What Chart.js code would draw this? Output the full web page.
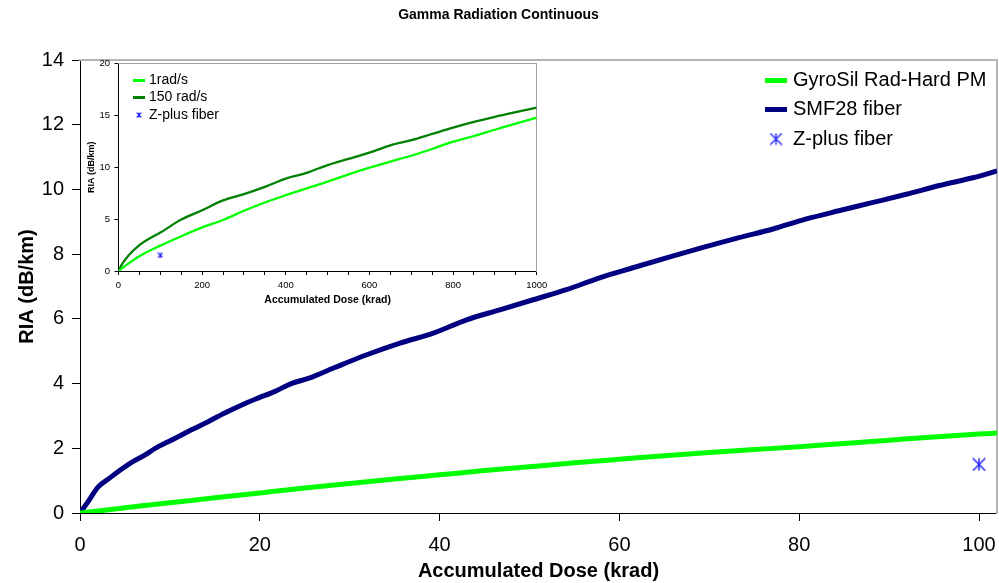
<!DOCTYPE html>
<html><head><meta charset="utf-8">
<script src="https://cdn.jsdelivr.net/npm/chart.js@4.4.1/dist/chart.umd.min.js"></script>
<style>
html,body{margin:0;padding:0;background:#fff;}
#wrap{position:relative;width:999px;height:583px;overflow:hidden;}
#main{position:absolute;left:0;top:0;}
#inset{position:absolute;left:80px;top:55px;}
</style></head><body>
<div id="wrap"><canvas id="main" width="999" height="583"></canvas><canvas id="inset" width="470" height="252"></canvas></div>
<script>
// ---------- text ----------
const chartTitle = 'Gamma Radiation Continuous';
const xAxisTitle = 'Accumulated Dose (krad)';
const yAxisTitle = 'RIA (dB/km)';
const mainSeriesNames = ['GyroSil Rad-Hard PM', 'SMF28 fiber', 'Z-plus fiber'];
const insetSeriesNames = ['1rad/s', '150 rad/s', 'Z-plus fiber'];

// ---------- main chart data (dose krad, RIA dB/km) ----------
const gyroDose = [0, 5, 10, 15, 20, 25, 30, 35, 40, 45, 50, 55, 60, 65, 70, 75, 80, 85, 90, 95, 100, 102];
const gyroRIA  = [0, 0.16, 0.32, 0.47, 0.62, 0.77, 0.91, 1.05, 1.18, 1.31, 1.43, 1.55, 1.66, 1.77, 1.87, 1.96, 2.05, 2.15, 2.25, 2.35, 2.44, 2.47];
const smfDose = [0, 0.9, 2.0, 3.2, 4.3, 5.7, 6.9, 8.7, 10.6, 12.4, 14.3, 16.1, 18.0, 19.8, 21.7, 23.5, 25.4, 28.2, 31.9, 35.6, 39.3, 43.0, 46.7, 50.4, 54.1, 57.8, 61.5, 65.9, 69.6, 73.3, 77.0, 80.7, 84.4, 88.1, 91.9, 95.6, 99.3, 102];
const smfRIA  = [0, 0.35, 0.8, 1.06, 1.29, 1.56, 1.74, 2.05, 2.31, 2.57, 2.83, 3.09, 3.34, 3.55, 3.76, 4.0, 4.16, 4.48, 4.89, 5.25, 5.56, 5.97, 6.28, 6.59, 6.90, 7.27, 7.58, 7.94, 8.23, 8.51, 8.77, 9.08, 9.34, 9.59, 9.85, 10.12, 10.36, 10.57];
const zplusDose = [100];
const zplusRIA  = [1.5];
const mainXRange = [0, 102];
const mainYRange = [0, 14];
const mainXStep = 20;
const mainYStep = 2;

// ---------- inset chart data ----------
const slowDose = [0, 20, 50, 100, 150, 200, 250, 300, 350, 400, 450, 500, 550, 600, 650, 700, 750, 800, 850, 900, 950, 1000];
const slowRIA  = [0, 0.62, 1.43, 2.44, 3.35, 4.2, 4.91, 5.8, 6.6, 7.3, 7.96, 8.6, 9.3, 9.95, 10.53, 11.1, 11.75, 12.45, 13.0, 13.6, 14.2, 14.77];
const fastDose = [0, 10, 25, 50, 75, 100, 150, 200, 250, 300, 350, 400, 450, 500, 550, 600, 650, 700, 750, 800, 850, 900, 950, 1000];
const fastRIA  = [0, 0.75, 1.55, 2.5, 3.15, 3.7, 4.95, 5.85, 6.8, 7.4, 8.1, 8.9, 9.45, 10.2, 10.8, 11.4, 12.1, 12.6, 13.2, 13.8, 14.35, 14.85, 15.3, 15.73];
const insetZDose = [100];
const insetZRIA  = [1.5];
const insetXRange = [0, 1000];
const insetYRange = [0, 20];
const insetXStep = 50;
const insetXLabelEvery = 200;
const insetYStep = 5;

// ---------- helpers ----------
const FONT = "'Liberation Sans', Arial, Helvetica, sans-serif";
const pts = (xs, ys) => xs.map((x, i) => ({x: x, y: ys[i]}));

function starImg(size, color, lw) {
  const c = document.createElement('canvas');
  c.width = size; c.height = size;
  const g = c.getContext('2d');
  g.strokeStyle = color; g.lineWidth = lw;
  const e = lw / 2, s = size - lw / 2, m = size / 2;
  g.beginPath();
  g.moveTo(m, e); g.lineTo(m, s);
  g.moveTo(e, e); g.lineTo(s, s);
  g.moveTo(s, e); g.lineTo(e, s);
  g.stroke();
  return c;
}
function lineImg(w, h, color) {
  const c = document.createElement('canvas');
  c.width = w; c.height = h;
  const g = c.getContext('2d');
  g.fillStyle = color; g.fillRect(0, 0, w, h);
  return c;
}

const placeLegend = {
  id: 'placeLegend',
  afterLayout(chart, args, opts) {
    const l = chart.legend;
    if (!l || !opts || opts.x === undefined) return;
    l.left = opts.x; l.top = opts.y;
    l.right = opts.x + 400; l.bottom = opts.y + 200;
  }
};

function legendLabels(images) {
  return (chart) => chart.data.datasets.map((ds, i) => ({
    text: ds.label, pointStyle: images[i], fillStyle: ds.borderColor,
    strokeStyle: ds.borderColor, lineWidth: 0, hidden: false, datasetIndex: i, fontColor: '#000'
  }));
}

const GREEN = '#00ff00', NAVY = '#000080', BLUE = '#2a2aff', DKGREEN = '#008000';

// ---------- main chart ----------
const bigStar = starImg(14, BLUE, 1.5);
new Chart(document.getElementById('main'), {
  type: 'line',
  data: {
    datasets: [
      {label: mainSeriesNames[0], data: pts(gyroDose, gyroRIA), borderColor: GREEN, backgroundColor: GREEN,
       borderWidth: 5, pointRadius: 0, cubicInterpolationMode: 'monotone', borderJoinStyle: 'round', fill: false},
      {label: mainSeriesNames[1], data: pts(smfDose, smfRIA), borderColor: NAVY, backgroundColor: NAVY,
       borderWidth: 5, pointRadius: 0, cubicInterpolationMode: 'monotone', borderJoinStyle: 'round', fill: false},
      {label: mainSeriesNames[2], type: 'scatter', data: pts(zplusDose, zplusRIA), borderColor: BLUE, backgroundColor: BLUE,
       pointStyle: bigStar, pointRadius: 7, showLine: false}
    ]
  },
  options: {
    responsive: false, animation: false, devicePixelRatio: 1, events: [],
    layout: {autoPadding: false, padding: {left: 0, right: 2, top: 0, bottom: 0}},
    scales: {
      x: {
        type: 'linear', position: 'bottom', min: mainXRange[0], max: mainXRange[1],
        ticks: {stepSize: mainXStep, includeBounds: false, autoSkip: false, maxRotation: 0,
                font: {family: FONT, size: 20}, color: '#000', padding: 12},
        grid: {display: true, drawOnChartArea: false, drawTicks: true, tickLength: 8, color: '#000', lineWidth: 1},
        border: {display: true, color: '#000', width: 1},
        title: {display: true, text: xAxisTitle, color: '#000', font: {family: FONT, size: 20, weight: 'bold'}, padding: {top: 0, bottom: 0}},
        afterFit(s) { s.height = 70; s.paddingLeft = 0; s.paddingRight = 0; }
      },
      y: {
        type: 'linear', position: 'left', min: mainYRange[0], max: mainYRange[1],
        ticks: {stepSize: mainYStep, autoSkip: false, font: {family: FONT, size: 20}, color: '#000', padding: 8},
        grid: {display: true, drawOnChartArea: false, drawTicks: true, tickLength: 8, color: '#000', lineWidth: 1},
        border: {display: true, color: '#000', width: 1},
        title: {display: true, text: yAxisTitle, color: '#000', font: {family: FONT, size: 20, weight: 'bold'}, padding: {top: 15, bottom: 0}},
        afterFit(s) { s.width = 80; s.paddingTop = 0; s.paddingBottom = 0; }
      },
      x2: {
        type: 'linear', position: 'top', display: true,
        grid: {display: false, drawTicks: false}, ticks: {display: false},
        border: {display: true, color: '#b4b4b4', width: 2},
        afterFit(s) { s.height = 0; s.paddingLeft = 0; s.paddingRight = 0; }
      },
      y2: {
        type: 'linear', position: 'right', display: true,
        grid: {display: false, drawTicks: false}, ticks: {display: false},
        border: {display: true, color: '#b4b4b4', width: 2},
        afterFit(s) { s.width = 0; s.paddingTop = 0; s.paddingBottom = 0; }
      }
    },
    plugins: {
      title: {display: true, text: chartTitle, color: '#000', font: {family: FONT, size: 14, weight: 'bold'},
              padding: {top: 6.6, bottom: 36.6}},
      legend: {
        display: true, position: 'chartArea', align: 'start',
        labels: {usePointStyle: true, boxWidth: 14, padding: 9.5, color: '#000',
                 font: {family: FONT, size: 20},
                 generateLabels: legendLabels([lineImg(22, 5, GREEN), lineImg(22, 5, NAVY), starImg(13, BLUE, 1.4)])}
      },
      tooltip: {enabled: false},
      placeLegend: {x: 759.5, y: 60.5}
    }
  },
  plugins: [placeLegend]
});

// ---------- inset chart ----------
const smallStar = starImg(6, BLUE, 1.2);
new Chart(document.getElementById('inset'), {
  type: 'line',
  data: {
    datasets: [
      {label: insetSeriesNames[0], data: pts(slowDose, slowRIA), borderColor: GREEN, backgroundColor: GREEN,
       borderWidth: 2.3, pointRadius: 0, cubicInterpolationMode: 'monotone', fill: false},
      {label: insetSeriesNames[1], data: pts(fastDose, fastRIA), borderColor: DKGREEN, backgroundColor: DKGREEN,
       borderWidth: 2.3, pointRadius: 0, cubicInterpolationMode: 'monotone', fill: false},
      {label: insetSeriesNames[2], type: 'scatter', data: pts(insetZDose, insetZRIA), borderColor: BLUE, backgroundColor: BLUE,
       pointStyle: smallStar, pointRadius: 3, showLine: false}
    ]
  },
  options: {
    responsive: false, animation: false, devicePixelRatio: 1, events: [],
    layout: {autoPadding: false, padding: {left: 0, right: 13.3, top: 8.3, bottom: 0}},
    scales: {
      x: {
        type: 'linear', position: 'bottom', min: insetXRange[0], max: insetXRange[1],
        ticks: {stepSize: insetXStep, autoSkip: false, maxRotation: 0, font: {family: FONT, size: 9.5}, color: '#000', padding: 5,
                callback: (v) => (v % insetXLabelEvery === 0 ? String(v) : '')},
        grid: {display: true, drawOnChartArea: false, drawTicks: true, tickLength: 4, color: '#000', lineWidth: 1},
        border: {display: true, color: '#000', width: 1},
        title: {display: true, text: xAxisTitle, color: '#000', font: {family: FONT, size: 10.5, weight: 'bold'}, padding: {top: 0, bottom: 0.7}},
        afterFit(s) { s.height = 36; s.paddingLeft = 0; s.paddingRight = 0; }
      },
      y: {
        type: 'linear', position: 'left', min: insetYRange[0], max: insetYRange[1],
        ticks: {stepSize: insetYStep, autoSkip: false, font: {family: FONT, size: 9.5}, color: '#000', padding: 4.5},
        grid: {display: true, drawOnChartArea: false, drawTicks: true, tickLength: 4, color: '#000', lineWidth: 1},
        border: {display: true, color: '#000', width: 1},
        title: {display: true, text: yAxisTitle, color: '#000', font: {family: FONT, size: 9, weight: 'bold'}, padding: {top: 6, bottom: 0}},
        afterFit(s) { s.width = 38.5; s.paddingTop = 0; s.paddingBottom = 0; }
      },
      x2: {
        type: 'linear', position: 'top', display: true,
        grid: {display: false, drawTicks: false}, ticks: {display: false},
        border: {display: true, color: '#a0a0a0', width: 1},
        afterFit(s) { s.height = 0; s.paddingLeft = 0; s.paddingRight = 0; }
      },
      y2: {
        type: 'linear', position: 'right', display: true,
        grid: {display: false, drawTicks: false}, ticks: {display: false},
        border: {display: true, color: '#a0a0a0', width: 1},
        afterFit(s) { s.width = 0; s.paddingTop = 0; s.paddingBottom = 0; }
      }
    },
    plugins: {
      title: {display: false},
      legend: {
        display: true, position: 'chartArea', align: 'start',
        labels: {usePointStyle: true, boxWidth: 6, padding: 3.5, color: '#000',
                 font: {family: FONT, size: 14},
                 generateLabels: legendLabels([lineImg(12, 3, GREEN), lineImg(12, 3, DKGREEN), starImg(6, BLUE, 1.2)])}
      },
      tooltip: {enabled: false},
      placeLegend: {x: 52.5, y: 14.5}
    }
  },
  plugins: [placeLegend]
});
</script>
</body></html>
